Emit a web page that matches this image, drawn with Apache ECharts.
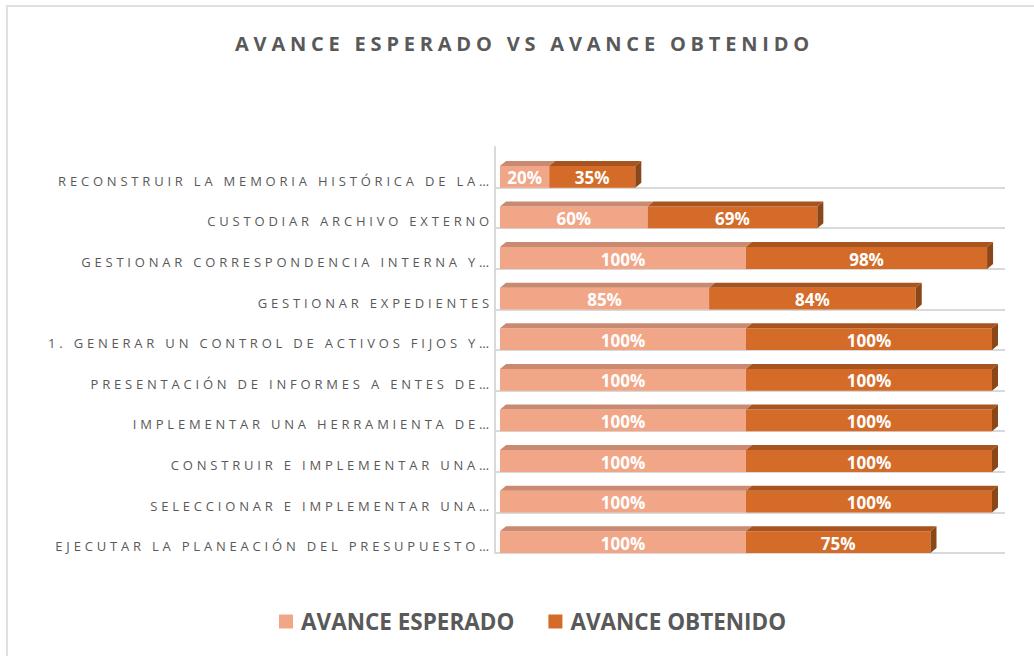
<!DOCTYPE html>
<html lang="es">
<head>
  <meta charset="UTF-8">
  <title>Avance esperado vs avance obtenido</title>
  <script src="https://cdn.jsdelivr.net/npm/echarts@6/dist/echarts.min.js"></script>
  <style>
    * {
      margin: 0;
      padding: 0
    }

    html, body {
      width: 100%;
      height: 100%;
      background: #fff;
      overflow: hidden;
    }

    #marco {
      position: absolute;
      left: 6px;
      top: 5px;
      width: 1040px;
      height: 700px;
      border-left: 2px solid #e0e0e0;
      border-top: 2px solid #e0e0e0;
    }

    #main {
      position: absolute;
      left: 0;
      top: 0;
      width: 1034px;
      height: 656px;
    }

    /* espaciado de letras como en el original (renderer svg) */
    #main text[style*="13px"] {
      letter-spacing: 3.8px;
    }

    #main text[style*="20px"] {
      letter-spacing: 4.8px;
    }
  </style>
</head>
<body>
  <div id="marco"></div>
  <div id="main"></div>
</body>
<script type="text/javascript">
  // categorias de abajo hacia arriba
  var categorias = [
    'EJECUTAR LA PLANEACIÓN DEL PRESUPUESTO…',
    'SELECCIONAR E IMPLEMENTAR UNA…',
    'CONSTRUIR E IMPLEMENTAR UNA…',
    'IMPLEMENTAR UNA HERRAMIENTA DE…',
    'PRESENTACIÓN DE INFORMES A ENTES DE…',
    '1. GENERAR UN CONTROL DE ACTIVOS FIJOS Y…',
    'GESTIONAR EXPEDIENTES',
    'GESTIONAR CORRESPONDENCIA INTERNA Y…',
    'CUSTODIAR ARCHIVO EXTERNO',
    'RECONSTRUIR LA MEMORIA HISTÓRICA DE LA…'
  ];
  var esperado = [100, 100, 100, 100, 100, 100, 85, 100, 60, 20];
  var obtenido = [75, 100, 100, 100, 100, 100, 84, 98, 69, 35];
  var nombres = ['AVANCE ESPERADO', 'AVANCE OBTENIDO'];
  var titulo = 'AVANCE ESPERADO VS AVANCE OBTENIDO';

  var colores = {
    esperado: {frente: '#F2A688', arriba: '#C98A71', lado: '#B9735A'},
    obtenido: {frente: '#D46B29', arriba: '#A9541F', lado: '#8C4719'}
  };

  // [inicio, fin, indice categoria]
  var datosEsp = esperado.map(function (v, i) { return [0, v, i]; });
  var datosObt = obtenido.map(function (v, i) { return [esperado[i], esperado[i] + v, i]; });

  function bloque(c, conLado) {
    return function (params, api) {
      var i = api.value(2);
      var p0 = api.coord([api.value(0), i]);
      var p1 = api.coord([api.value(1), i]);
      var h = api.size([0, 1])[1] * 0.66;
      var dx = 6, dy = 5;
      var arriba = p0[1] - h / 2, abajo = p0[1] + h / 2;
      var hijos = [
        {
          type: 'rect',
          shape: {x: p0[0], y: arriba + dy, width: p1[0] - p0[0], height: h - dy},
          style: {fill: c.frente}
        },
        {
          type: 'polygon',
          shape: {points: [[p0[0], arriba + dy], [p0[0] + dx, arriba], [p1[0] + dx, arriba], [p1[0], arriba + dy]]},
          style: {fill: c.arriba}
        }
      ];
      if (conLado) {
        hijos.push({
          type: 'polygon',
          shape: {points: [[p1[0], arriba + dy], [p1[0] + dx, arriba], [p1[0] + dx, abajo - dy], [p1[0], abajo]]},
          style: {fill: c.lado}
        });
      }
      hijos.push({
        type: 'text',
        style: {
          text: Math.round(api.value(1) - api.value(0)) + '%',
          x: (p0[0] + p1[0]) / 2,
          y: (arriba + dy + abajo) / 2 + 1,
          fill: '#fff',
          fontSize: 17,
          fontWeight: 'bold',
          fontFamily: 'Open Sans',
          align: 'center',
          verticalAlign: 'middle'
        }
      });
      return {type: 'group', children: hijos};
    };
  }

  var grafico = echarts.init(document.getElementById('main'), null, {renderer: 'svg'});
  grafico.setOption({
    animation: false,
    title: {
      text: titulo,
      left: 230,
      top: 28,
      textStyle: {
        fontFamily: 'Open Sans',
        fontSize: 20,
        fontWeight: 'bold',
        color: '#595959'
      }
    },
    legend: {
      data: nombres,
      bottom: 18,
      left: 274,
      icon: 'rect',
      itemWidth: 14,
      itemHeight: 14,
      itemGap: 34,
      textStyle: {
        fontFamily: 'Open Sans',
        fontSize: 22.5,
        fontWeight: 'bold',
        color: '#595959',
        padding: [0, 0, 0, 3]
      }
    },
    grid: [
      {left: 500, right: 42, top: 154, bottom: 96},
      {left: 495, right: 29, top: 147, bottom: 103}
    ],
    xAxis: [
      {type: 'value', gridIndex: 0, min: 0, max: 200, show: false},
      {type: 'value', gridIndex: 1, min: 0, max: 200, show: false}
    ],
    yAxis: [
      {
        type: 'category',
        gridIndex: 0,
        data: categorias,
        axisLine: {show: false},
        axisTick: {show: false},
        splitLine: {show: false},
        axisLabel: {
          margin: 7,
          verticalAlign: 'top',
          fontFamily: 'Open Sans',
          fontSize: 13,
          color: '#595959'
        }
      },
      {
        type: 'category',
        gridIndex: 1,
        data: categorias,
        axisLine: {show: true, lineStyle: {color: '#d9d9d9', width: 2}},
        axisTick: {show: false},
        axisLabel: {show: false},
        splitLine: {show: true, showMaxLine: false, lineStyle: {color: '#d9d9d9', width: 2}}
      }
    ],
    series: [
      {
        name: nombres[0],
        type: 'custom',
        xAxisIndex: 0,
        yAxisIndex: 0,
        itemStyle: {color: colores.esperado.frente},
        renderItem: bloque(colores.esperado, false),
        encode: {x: [0, 1], y: 2},
        data: datosEsp
      },
      {
        name: nombres[1],
        type: 'custom',
        xAxisIndex: 0,
        yAxisIndex: 0,
        itemStyle: {color: colores.obtenido.frente},
        renderItem: bloque(colores.obtenido, true),
        encode: {x: [0, 1], y: 2},
        data: datosObt
      }
    ]
  });
</script>
</html>
